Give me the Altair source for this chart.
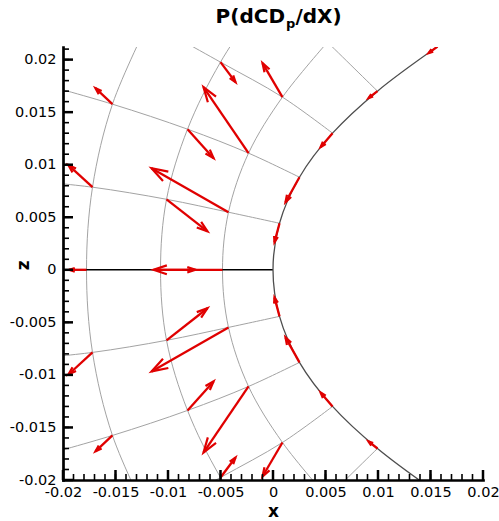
import altair as alt
import pandas as pd

# ---------------- axes ----------------
XMIN, XMAX = -0.02, 0.02
ZMIN, ZMAX = -0.02, 0.0212
W, H = 420, 433
PXU = W / (XMAX - XMIN)  # pixels per data unit

x_major = [-0.02, -0.015, -0.01, -0.005, 0.0, 0.005, 0.01, 0.015, 0.02]
z_major = [-0.02, -0.015, -0.01, -0.005, 0.0, 0.005, 0.01, 0.015, 0.02]
x_minor = [round(-0.02 + 0.001 * k, 3) for k in range(41)]
z_minor = [round(-0.02 + 0.001 * k, 3) for k in range(42)]

# ---------------- mesh lines (x, z) ----------------
surface_x = [0.01567, 0.00995, 0.00567, 0.00252, 0.00062, 0.0, 0.00062, 0.00252, 0.00567, 0.00995, 0.01567]
surface_z = [-0.02124, -0.01700, -0.01300, -0.00881, -0.00443, 0.0, 0.00443, 0.00881, 0.01300, 0.01700, 0.02124]

j1_x = [0.00519, 0.00090, -0.00233, -0.00424, -0.00481, -0.00424, -0.00233, 0.00090, 0.00519]
j1_z = [-0.02166, -0.01643, -0.01110, -0.00548, 0.0, 0.00548, 0.01110, 0.01643, 0.02166]
j2_x = [-0.00021, -0.00500, -0.00814, -0.01014, -0.01071, -0.01014, -0.00814, -0.00500, -0.00021]
j2_z = [-0.02694, -0.01976, -0.01338, -0.00671, 0.0, 0.00671, 0.01338, 0.01976, 0.02694]
j3_x = [-0.01186, -0.01529, -0.01719, -0.01776, -0.01719, -0.01529, -0.01186]
j3_z = [-0.02357, -0.01576, -0.00786, 0.0, 0.00786, 0.01576, 0.02357]

r1u_x = [0.00062, -0.00424, -0.01014, -0.01719, -0.0225]
r1u_z = [0.00443, 0.00548, 0.00671, 0.00786, 0.00841]
r1l_x = [0.00062, -0.00424, -0.01014, -0.01719, -0.0225]
r1l_z = [-0.00443, -0.00548, -0.00671, -0.00786, -0.00841]
r2u_x = [0.00252, -0.00233, -0.00814, -0.01529, -0.0225]
r2u_z = [0.00881, 0.01110, 0.01338, 0.01576, 0.01782]
r2l_x = [0.00252, -0.00233, -0.00814, -0.01529, -0.0225]
r2l_z = [-0.00881, -0.01110, -0.01338, -0.01576, -0.01782]
r3u_x = [0.00567, 0.00090, -0.00500, -0.01186]
r3u_z = [0.01300, 0.01643, 0.01976, 0.02357]
r3l_x = [0.00567, 0.00090, -0.00500, -0.01186]
r3l_z = [-0.01300, -0.01643, -0.01976, -0.02357]
r4u_x = [0.00995, 0.00519, -0.00021]
r4u_z = [0.01700, 0.02166, 0.02694]
r4l_x = [0.00995, 0.00519, -0.00021]
r4l_z = [-0.01700, -0.02166, -0.02694]

r0_x = [0.0, -0.00481, -0.01071, -0.01776, -0.0225]
r0_z = [0.0, 0.0, 0.0, 0.0, 0.0]

# ---------------- vectors: tail (x, z) and components (u, w) ----------------
vec_x = [-0.01529, -0.01719, -0.00500, -0.00814, -0.00233, -0.00424, -0.01014, 0.00090,
         0.00062, 0.00252, 0.00567, 0.00995, 0.01567,
         -0.00481, -0.01071, -0.01776,
         -0.01529, -0.01719, -0.00500, -0.00814, -0.00233, -0.00424, -0.01014, 0.00090,
         0.00062, 0.00252, 0.00567, 0.00995, 0.01567]
vec_z = [0.01576, 0.00786, 0.01976, 0.01338, 0.01110, 0.00548, 0.00671, 0.01643,
         0.00443, 0.00881, 0.01300, 0.01700, 0.02124,
         0.0, 0.0, 0.0,
         -0.01576, -0.00786, -0.01976, -0.01338, -0.01110, -0.00548, -0.00671, -0.01643,
         -0.00443, -0.00881, -0.01300, -0.01700, -0.02124]
vec_u = [-0.00162, -0.00229, 0.00143, 0.00248, -0.00429, -0.00733, 0.00390, -0.00190,
         -0.00048, -0.00133, -0.00114, -0.00086, -0.00086,
         -0.00657, 0.00333, -0.00165,
         -0.00162, -0.00229, 0.00143, 0.00248, -0.00429, -0.00733, 0.00390, -0.00190,
         -0.00048, -0.00133, -0.00114, -0.00086, -0.00086]
vec_w = [0.00152, 0.00210, -0.00190, -0.00276, 0.00629, 0.00419, -0.00305, 0.00324,
         -0.00181, -0.00238, -0.00133, -0.00067, -0.00062,
         0.0, 0.0, 0.0,
         -0.00152, -0.00210, 0.00190, 0.00276, -0.00629, -0.00419, 0.00305, -0.00324,
         0.00181, 0.00238, 0.00133, 0.00067, 0.00062]

# ---------------- build tables ----------------
def lines_df(named):
    rows = []
    for name, (xs, zs) in named.items():
        for i, (a, b) in enumerate(zip(xs, zs)):
            rows.append({"line": name, "i": i, "x": a, "z": b})
    return pd.DataFrame(rows)

grid_df = lines_df({
    "j1": (j1_x, j1_z), "j2": (j2_x, j2_z), "j3": (j3_x, j3_z),
    "r1u": (r1u_x, r1u_z), "r1l": (r1l_x, r1l_z),
    "r2u": (r2u_x, r2u_z), "r2l": (r2l_x, r2l_z),
    "r3u": (r3u_x, r3u_z), "r3l": (r3l_x, r3l_z),
    "r4u": (r4u_x, r4u_z), "r4l": (r4l_x, r4l_z),
})
surf_df = lines_df({"surface": (surface_x, surface_z)})
r0_df = lines_df({"r0": (r0_x, r0_z)})
vec_df = pd.DataFrame({"x": vec_x, "z": vec_z, "u": vec_u, "w": vec_w})

FONT = "DejaVu Sans"
x_axis = alt.Axis(title="x", values=x_major, labelExpr="'' + datum.value", ticks=False, tickSize=0,
                  grid=False, domainColor="black", domainWidth=2.7, domainCap="square",
                  labelFont=FONT, labelFontSize=14.5, labelColor="black", labelPadding=5,
                  labelOverlap=False, labelFlush=False,
                  titleFont=FONT, titleFontSize=17, titleFontWeight="bold", titleColor="black",
                  titleY=31, titleBaseline="middle", zindex=1)
z_axis = alt.Axis(title="z", values=z_major, labelExpr="'' + datum.value", ticks=False, tickSize=0,
                  grid=False, domainColor="black", domainWidth=2.7, domainCap="square",
                  labelFont=FONT, labelFontSize=14.5, labelColor="black", labelPadding=7,
                  labelOverlap=False, labelFlush=False,
                  titleFont=FONT, titleFontSize=17, titleFontWeight="bold", titleColor="black",
                  titleX=-40, titleY=H * (ZMAX - 0.0) / (ZMAX - ZMIN) - 5, titleBaseline="middle",
                  titleAngle=270, zindex=1)

xs = alt.Scale(domain=[XMIN, XMAX], nice=False, zero=False)
zs = alt.Scale(domain=[ZMIN, ZMAX], nice=False, zero=False)

def X(f):
    return alt.X(f + ":Q", scale=xs, axis=x_axis)

def Z(f):
    return alt.Y(f + ":Q", scale=zs, axis=z_axis)

RED = "#e00000"

grid = alt.Chart(grid_df).mark_line(color="#a3a3a3", strokeWidth=1, clip=True,
                                    interpolate="catmull-rom").encode(
    x=X("x"), y=Z("z"), detail="line:N", order="i:Q")
surf = alt.Chart(surf_df).mark_line(color="#4d4d4d", strokeWidth=1.3, clip=True,
                                    interpolate="catmull-rom").encode(
    x=X("x"), y=Z("z"), detail="line:N", order="i:Q")
r0 = alt.Chart(r0_df).mark_line(color="black", strokeWidth=1.4, clip=True).encode(
    x=X("x"), y=Z("z"), detail="line:N", order="i:Q")

vec_base = alt.Chart(vec_df).transform_calculate(
    x2="datum.x + datum.u",
    z2="datum.z + datum.w",
    ang="(atan2(datum.u, datum.w) * 180 / PI + 360) % 360",
    hs=f"4 * pow(3 + 0.15 * sqrt(datum.u * datum.u + datum.w * datum.w) * {PXU}, 2)",
)
shafts = vec_base.mark_rule(color=RED, strokeWidth=2.3, clip=True).encode(
    x=X("x"), y=Z("z"), x2="x2:Q", y2="z2:Q")
heads = vec_base.mark_point(shape="M -0.33 1 L 0 0 L 0.33 1", filled=False, color=RED,
                            strokeWidth=2.2, opacity=1, clip=True).encode(
    x=X("x2"), y=Z("z2"),
    size=alt.Size("hs:Q", scale=None, legend=None),
    angle=alt.Angle("ang:Q", scale=None))

xt_major = alt.Chart(pd.DataFrame({"x": x_major})).mark_rule(color="black", strokeWidth=2.5).encode(
    x=X("x"), y=alt.value(H), y2=alt.value(H - 10))
xt_minor = alt.Chart(pd.DataFrame({"x": x_minor})).mark_rule(color="black", strokeWidth=1.6).encode(
    x=X("x"), y=alt.value(H), y2=alt.value(H - 6))
zt_major = alt.Chart(pd.DataFrame({"z": z_major})).mark_rule(color="black", strokeWidth=2.5).encode(
    y=Z("z"), x=alt.value(0), x2=alt.value(10))
zt_minor = alt.Chart(pd.DataFrame({"z": z_minor})).mark_rule(color="black", strokeWidth=1.6).encode(
    y=Z("z"), x=alt.value(0), x2=alt.value(6))

one = alt.Data(values=[{"k": 1}])
t1 = alt.Chart(one).mark_text(text="P(dCD", align="right", baseline="alphabetic", font=FONT,
                              fontSize=20, fontWeight="bold", color="black").encode(
    x=alt.value(222), y=alt.value(-24))
t2 = alt.Chart(one).mark_text(text="p", align="left", baseline="alphabetic", font=FONT,
                              fontSize=13, fontWeight="bold", color="black").encode(
    x=alt.value(223), y=alt.value(-19))
t3 = alt.Chart(one).mark_text(text="/dX)", align="left", baseline="alphabetic", font=FONT,
                              fontSize=20, fontWeight="bold", color="black").encode(
    x=alt.value(232.5), y=alt.value(-24))

chart = alt.layer(grid, r0, surf, shafts, heads, xt_minor, xt_major, zt_minor, zt_major, t1, t2, t3).properties(
    width=W, height=H,
    autosize=alt.AutoSizeParams(type="none"),
    padding={"left": 63, "top": 47, "right": 16, "bottom": 41},
    background="white",
).configure_view(stroke=None)

chart.save("out.html", embed_options={"renderer": "svg", "actions": False})
